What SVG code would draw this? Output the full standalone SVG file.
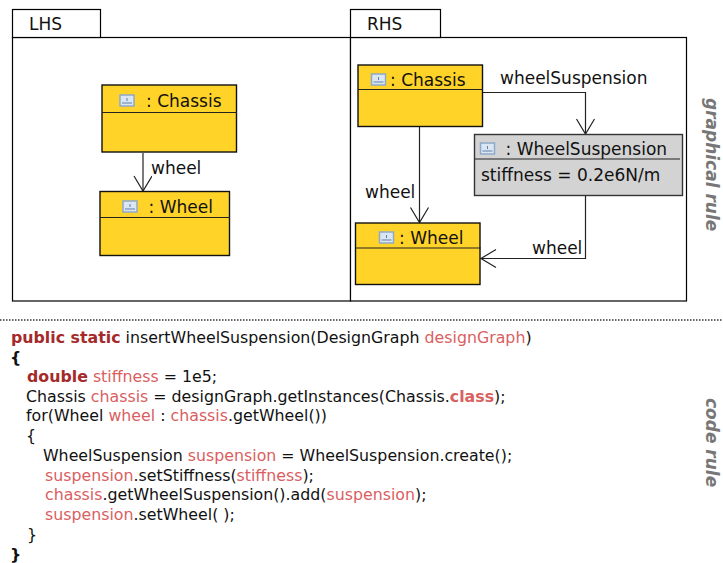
<svg xmlns="http://www.w3.org/2000/svg" width="723" height="563" viewBox="0 0 723 563">
<style>
text{font-family:"DejaVu Sans",sans-serif;fill:#111;white-space:pre}
.l{font-size:17px}
.c{font-size:15.8px}
.k{font-weight:bold;fill:#a52a2a}
.v{fill:#d9605f}
.kv{font-weight:bold;fill:#d9605f}
.b{font-weight:bold}
.side{font-size:17px;font-weight:bold;font-style:italic;fill:#777}
.frame{fill:#fff;stroke:#000;stroke-width:1.2}
.y{fill:#ffd327;stroke:#111;stroke-width:1.4}
.g{fill:#d3d3d3;stroke:#333;stroke-width:1.4}
.d{stroke:#222;stroke-width:1.2;fill:none}
.e{fill:none;stroke:#222;stroke-width:1.2}
.ib{fill:#dbe6f3;stroke:#8fa9c9;stroke-width:1.5}
.ig{stroke:#5f7fa8;stroke-width:1;fill:none}
</style>
<defs>
<marker id="open" markerUnits="userSpaceOnUse" markerWidth="22" markerHeight="22" refX="16" refY="9" orient="auto"><path d="M1 0L16 9L1 18" fill="none" stroke="#222" stroke-width="1.2"/></marker>
<g id="icon"><rect class="ib" x="0.5" y="0.5" width="14" height="11"/><path class="ig" d="M2.5 8.5H12.5M7.5 3.5V6.5"/></g>
</defs>
<g id="lhs-frame"><rect class="frame" x="12.5" y="37.5" width="338" height="263.5"/><rect class="frame" x="12.5" y="9.5" width="88" height="28"/><text class="l" x="29" y="29.500">LHS</text></g>
<g id="rhs-frame"><rect class="frame" x="350.5" y="37.5" width="336" height="263.5"/><rect class="frame" x="350.5" y="9.5" width="90" height="28"/><text class="l" x="367" y="29.500">RHS</text></g>
<g id="connectors">
<path class="e" marker-end="url(#open)" d="M143 153V191"/>
<path class="e" marker-end="url(#open)" d="M483 92.500H585.500V134"/>
<path class="e" marker-end="url(#open)" d="M419.500 127V222.500"/>
<path class="e" marker-end="url(#open)" d="M585.500 196V258.500H481"/>
</g>
<g id="label-wheel-lhs"><text class="l" x="151" y="174">wheel</text></g>
<g id="label-wheelsuspension"><text class="l" x="500" y="84">wheelSuspension</text></g>
<g id="label-wheel-rhs1"><text class="l" x="365" y="198">wheel</text></g>
<g id="label-wheel-rhs2"><text class="l" x="532" y="254">wheel</text></g>
<g id="lhs-chassis"><rect class="y" x="102" y="85" width="134.500" height="67"/><path class="d" d="M102 112.500H237"/><use href="#icon" x="119.500" y="94.500"/><text class="l" x="146" y="107">: Chassis</text></g>
<g id="lhs-wheel"><rect class="y" x="100" y="191.500" width="129.500" height="64"/><path class="d" d="M100 217.500H230"/><use href="#icon" x="122.500" y="200.500"/><text class="l" x="148.500" y="212.500">: Wheel</text></g>
<g id="rhs-chassis"><rect class="y" x="358" y="65" width="124.500" height="61.500"/><path class="d" d="M358 89.500H483"/><use href="#icon" x="371" y="73.500"/><text class="l" x="390" y="85.500">: Chassis</text></g>
<g id="rhs-suspension"><rect class="g" x="474.500" y="134.500" width="208" height="61"/><path class="d" d="M475 159H680"/><use href="#icon" x="480" y="142.500"/><text class="l" x="505.500" y="154.500">: WheelSuspension</text><text class="l" x="481" y="180.500">stiffness = 0.2e6N/m</text></g>
<g id="rhs-wheel"><rect class="y" x="355.500" y="223" width="124.500" height="61.500"/><path class="d" d="M355.500 248H481"/><use href="#icon" x="379" y="231.500"/><text class="l" x="399" y="243.500">: Wheel</text></g>
<text class="side" transform="translate(706 98) rotate(90)">graphical rule</text>
<path d="M0 320H723" stroke="#333" stroke-width="1.500" stroke-dasharray="1.500 1.500" fill="none"/>
<g id="code" class="c">
<text class="c" x="11" y="342.500"><tspan class="k">public static</tspan> insertWheelSuspension(DesignGraph <tspan class="v">designGraph</tspan>)</text>
<text class="c b" x="10" y="362.500">{</text>
<text class="c" x="27" y="381.500"><tspan class="k">double</tspan> <tspan class="v">stiffness</tspan> = 1e5;</text>
<text class="c" x="26" y="401.500">Chassis <tspan class="v">chassis</tspan> = designGraph.getInstances(Chassis.<tspan class="kv">class</tspan>);</text>
<text class="c" x="26" y="420.500">for(Wheel <tspan class="v">wheel</tspan> : <tspan class="v">chassis</tspan>.getWheel())</text>
<text class="c" x="26" y="440.500">{</text>
<text class="c" x="43" y="460.500">WheelSuspension <tspan class="v">suspension</tspan> = WheelSuspension.create();</text>
<text class="c" x="45" y="480.500"><tspan class="v">suspension</tspan>.setStiffness(<tspan class="v">stiffness</tspan>);</text>
<text class="c" x="45" y="499.500"><tspan class="v">chassis</tspan>.getWheelSuspension().add(<tspan class="v">suspension</tspan>);</text>
<text class="c" x="45" y="519.500"><tspan class="v">suspension</tspan>.setWheel( );</text>
<text class="c" x="27" y="539.500">}</text>
<text class="c b" x="10" y="559.500">}</text>
</g>
<text class="side" transform="translate(706 398) rotate(90)">code rule</text>
</svg>
